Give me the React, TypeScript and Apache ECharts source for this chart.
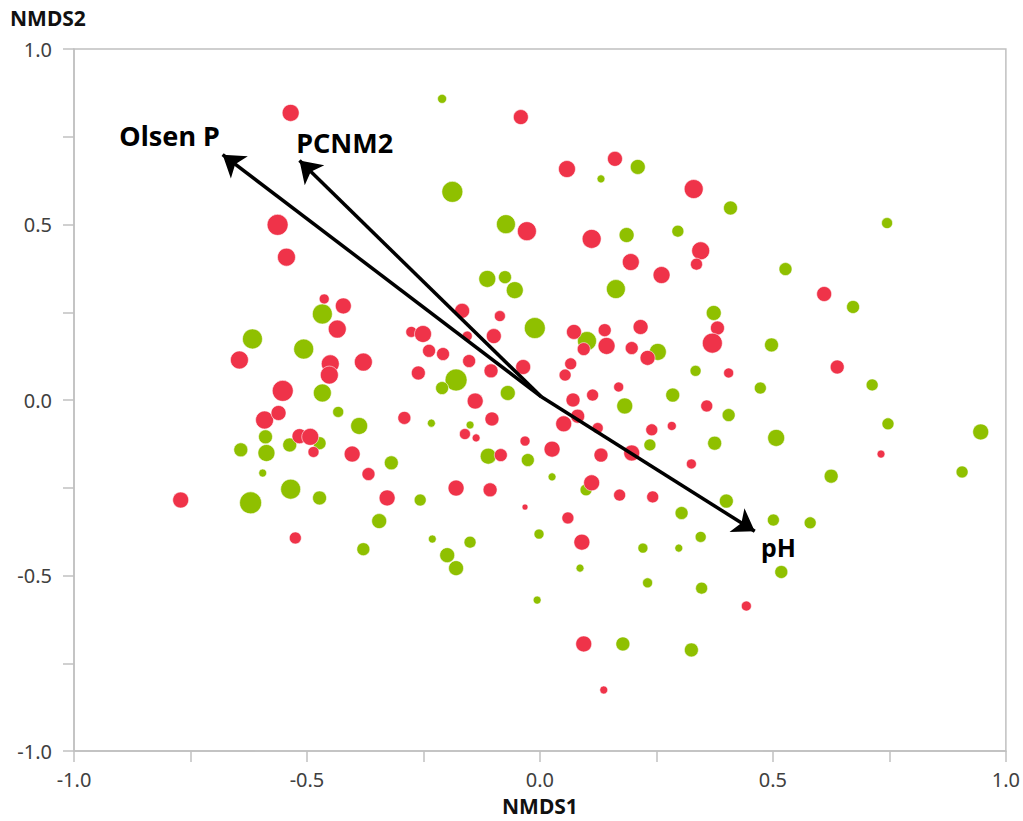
import React, { useEffect, useRef } from "react";
import * as echarts from "echarts";

// Site scores [NMDS1, NMDS2, abundance (bubble diameter)]
const redSites: [number, number, number][] = [
  [-0.535, 0.818, 17], [-0.041, 0.806, 15], [0.161, 0.687, 15], [0.058, 0.658, 17],
  [0.33, 0.601, 19], [-0.563, 0.499, 21], [-0.028, 0.481, 19], [0.111, 0.459, 19],
  [0.345, 0.425, 18], [0.336, 0.387, 12], [-0.544, 0.407, 18], [0.195, 0.393, 17],
  [0.261, 0.356, 17], [0.61, 0.302, 15], [0.381, 0.205, 14], [0.37, 0.162, 20],
  [-0.463, 0.288, 10], [-0.422, 0.268, 16], [-0.435, 0.202, 18], [-0.645, 0.114, 18],
  [-0.45, 0.103, 18], [-0.452, 0.071, 18], [-0.379, 0.108, 18], [-0.552, 0.026, 21],
  [-0.591, -0.057, 18], [-0.561, -0.037, 15], [-0.516, -0.103, 15], [-0.493, -0.105, 17],
  [-0.486, -0.148, 11], [-0.403, -0.154, 16], [-0.368, -0.211, 13], [-0.771, -0.285, 16],
  [-0.328, -0.279, 16], [-0.525, -0.393, 12], [-0.167, 0.254, 15], [-0.086, 0.239, 11],
  [-0.276, 0.194, 11], [-0.251, 0.188, 17], [-0.156, 0.182, 10], [-0.099, 0.182, 15],
  [0.073, 0.194, 15], [0.139, 0.199, 13], [0.143, 0.154, 17], [0.094, 0.145, 13],
  [0.216, 0.208, 15], [0.197, 0.148, 13], [0.231, 0.12, 15], [-0.238, 0.14, 13],
  [-0.208, 0.131, 13], [-0.152, 0.111, 13], [-0.261, 0.077, 14], [-0.105, 0.083, 14],
  [-0.036, 0.094, 15], [0.066, 0.103, 12], [0.054, 0.071, 12], [0.405, 0.077, 10],
  [0.169, 0.037, 10], [0.113, 0.014, 12], [0.071, 0.0, 14], [-0.139, -0.003, 16],
  [0.081, -0.046, 14], [0.051, -0.068, 16], [0.358, -0.017, 12], [-0.291, -0.051, 13],
  [-0.103, -0.054, 14], [0.124, -0.08, 11], [-0.161, -0.097, 11], [-0.137, -0.108, 8],
  [0.24, -0.085, 12], [0.283, -0.074, 9], [-0.032, -0.117, 10], [0.026, -0.14, 16],
  [0.131, -0.157, 14], [0.197, -0.151, 16], [-0.084, -0.157, 13], [0.325, -0.182, 10],
  [-0.18, -0.251, 16], [-0.107, -0.256, 14], [0.111, -0.236, 16], [0.171, -0.271, 12],
  [0.242, -0.276, 12], [-0.032, -0.305, 6], [0.06, -0.336, 12], [0.09, -0.405, 16],
  [0.638, 0.094, 14], [0.732, -0.154, 8], [0.443, -0.587, 10], [0.094, -0.695, 16],
  [0.137, -0.826, 8],
];

const greenSites: [number, number, number][] = [
  [-0.21, 0.858, 9], [0.21, 0.664, 15], [0.131, 0.63, 8], [-0.188, 0.593, 21],
  [0.409, 0.547, 14], [0.745, 0.504, 11], [-0.073, 0.501, 19], [0.186, 0.47, 15],
  [0.296, 0.481, 12], [0.527, 0.373, 13], [-0.113, 0.345, 17], [-0.075, 0.35, 13],
  [-0.054, 0.313, 17], [0.163, 0.316, 19], [0.672, 0.265, 13], [0.373, 0.248, 15],
  [0.497, 0.157, 14], [-0.467, 0.245, 20], [-0.617, 0.174, 20], [-0.507, 0.145, 20],
  [-0.467, 0.02, 18], [-0.433, -0.034, 11], [-0.388, -0.074, 17], [-0.589, -0.105, 14],
  [-0.473, -0.123, 13], [-0.537, -0.128, 14], [-0.642, -0.142, 14], [-0.587, -0.151, 17],
  [-0.319, -0.179, 14], [-0.595, -0.208, 8], [-0.535, -0.254, 20], [-0.621, -0.293, 22],
  [-0.473, -0.279, 14], [-0.345, -0.345, 15], [-0.011, 0.205, 21], [0.101, 0.168, 19],
  [0.253, 0.137, 17], [-0.18, 0.057, 22], [-0.21, 0.034, 13], [-0.069, 0.02, 15],
  [0.334, 0.083, 11], [0.285, 0.014, 14], [0.182, -0.017, 16], [0.405, -0.043, 13],
  [-0.233, -0.066, 8], [-0.15, -0.071, 8], [0.375, -0.123, 14], [0.236, -0.128, 12],
  [-0.111, -0.16, 16], [-0.026, -0.171, 13], [0.026, -0.219, 8], [0.099, -0.256, 12],
  [0.304, -0.322, 13], [0.4, -0.288, 14], [-0.257, -0.285, 12], [0.473, 0.034, 12],
  [0.713, 0.043, 12], [0.747, -0.068, 12], [0.946, -0.091, 16], [0.507, -0.108, 17],
  [0.625, -0.217, 14], [0.906, -0.205, 12], [0.501, -0.342, 12], [0.58, -0.35, 12],
  [0.345, -0.39, 11], [0.518, -0.49, 13], [-0.379, -0.425, 13], [-0.231, -0.396, 8],
  [-0.15, -0.405, 12], [-0.199, -0.442, 15], [-0.18, -0.479, 15], [-0.002, -0.382, 10],
  [0.086, -0.479, 8], [-0.006, -0.57, 8], [0.221, -0.422, 10], [0.298, -0.422, 8],
  [0.231, -0.521, 10], [0.347, -0.536, 12], [0.178, -0.695, 14], [0.325, -0.712, 14],
];

// Environmental fitted vectors
const vectorOrigin: [number, number] = [0.003, 0.009];
const vectorNames = ["Olsen P", "PCNM2", "pH"];
const vectorNMDS1 = [-0.681, -0.516, 0.461];
const vectorNMDS2 = [0.699, 0.682, -0.374];
// Label anchors for vectors
const labelNMDS1 = [-0.795, -0.419, 0.512];
const labelNMDS2 = [0.754, 0.735, -0.419];

const RED = "#EF3349";
const GREEN = "#8FC000";
const AXIS_GRAY = "#c0c0c0";
const FONT = '"Noto Sans", "Open Sans", sans-serif';

const tickFormatter = (v: number) =>
  Math.abs(v * 2 - Math.round(v * 2)) < 1e-6 ? v.toFixed(1) : "";

export default function App() {
  const ref = useRef<HTMLDivElement>(null);

  useEffect(() => {
    document.body.style.margin = "0";
    if (!ref.current) return;
    const chart = echarts.init(ref.current, undefined, { renderer: "svg" });

    const axisCommon = {
      type: "value" as const,
      min: -1,
      max: 1,
      interval: 0.25,
      splitLine: { show: false },
      axisLine: { show: true, onZero: false, lineStyle: { color: AXIS_GRAY, width: 1.5 } },
      axisTick: { show: true, length: 11, lineStyle: { color: AXIS_GRAY, width: 1.5 } },
    };

    const option: any = {
      animation: false,
      backgroundColor: "#ffffff",
      grid: {
        left: 74,
        right: 14,
        top: 49,
        bottom: 69.5,
        show: true,
        borderColor: AXIS_GRAY,
        borderWidth: 1.5,
        containLabel: false,
      },
      xAxis: {
        ...axisCommon,
        name: "NMDS1",
        nameLocation: "middle",
        nameGap: 44,
        nameTextStyle: { fontFamily: FONT, fontSize: 21, fontWeight: "bold", color: "#111" },
        axisLabel: { formatter: tickFormatter, fontFamily: FONT, fontSize: 20, color: "#404040", margin: 18 },
      },
      yAxis: {
        ...axisCommon,
        axisLabel: { formatter: tickFormatter, fontFamily: FONT, fontSize: 20, color: "#404040", margin: 22 },
      },
      graphic: [
        {
          type: "text",
          left: 10,
          top: 7,
          style: { text: "NMDS2", fontFamily: FONT, fontSize: 21, fontWeight: "bold", fill: "#111" },
        },
      ],
      series: [
        {
          type: "scatter",
          name: "green",
          data: greenSites,
          symbolSize: (v: number[]) => v[2],
          itemStyle: { color: GREEN, borderColor: "rgba(255,255,255,0.7)", borderWidth: 0.8, opacity: 1 },
          z: 2,
        },
        {
          type: "scatter",
          name: "red",
          data: redSites,
          symbolSize: (v: number[]) => v[2],
          itemStyle: { color: RED, borderColor: "rgba(255,255,255,0.7)", borderWidth: 0.8, opacity: 1 },
          z: 2,
        },
        {
          type: "lines",
          coordinateSystem: "cartesian2d",
          symbol: ["none", "arrow"],
          symbolSize: [0, 21],
          lineStyle: { color: "#000", width: 3.5, opacity: 1, curveness: 0 },
          data: vectorNames.map((n, i) => ({
            name: n,
            coords: [vectorOrigin, [vectorNMDS1[i], vectorNMDS2[i]]],
          })),
          z: 5,
        },
        {
          type: "scatter",
          name: "vectorLabels",
          symbolSize: 1,
          itemStyle: { color: "rgba(0,0,0,0)" },
          emphasis: { disabled: true },
          data: vectorNames.map((n, i) => ({
            name: n,
            value: [labelNMDS1[i], labelNMDS2[i]],
            label: {
              show: true,
              position: "inside",
              formatter: "{b}",
              fontFamily: FONT,
              fontSize: i === 2 ? 25 : 27,
              fontWeight: "bold",
              color: "#000000",
              textBorderWidth: 0,
              opacity: 1,
            },
          })),
          z: 6,
        },
      ],
    };

    chart.setOption(option);
    return () => chart.dispose();
  }, []);

  return <div ref={ref} style={{ width: 1023, height: 821 }} />;
}
